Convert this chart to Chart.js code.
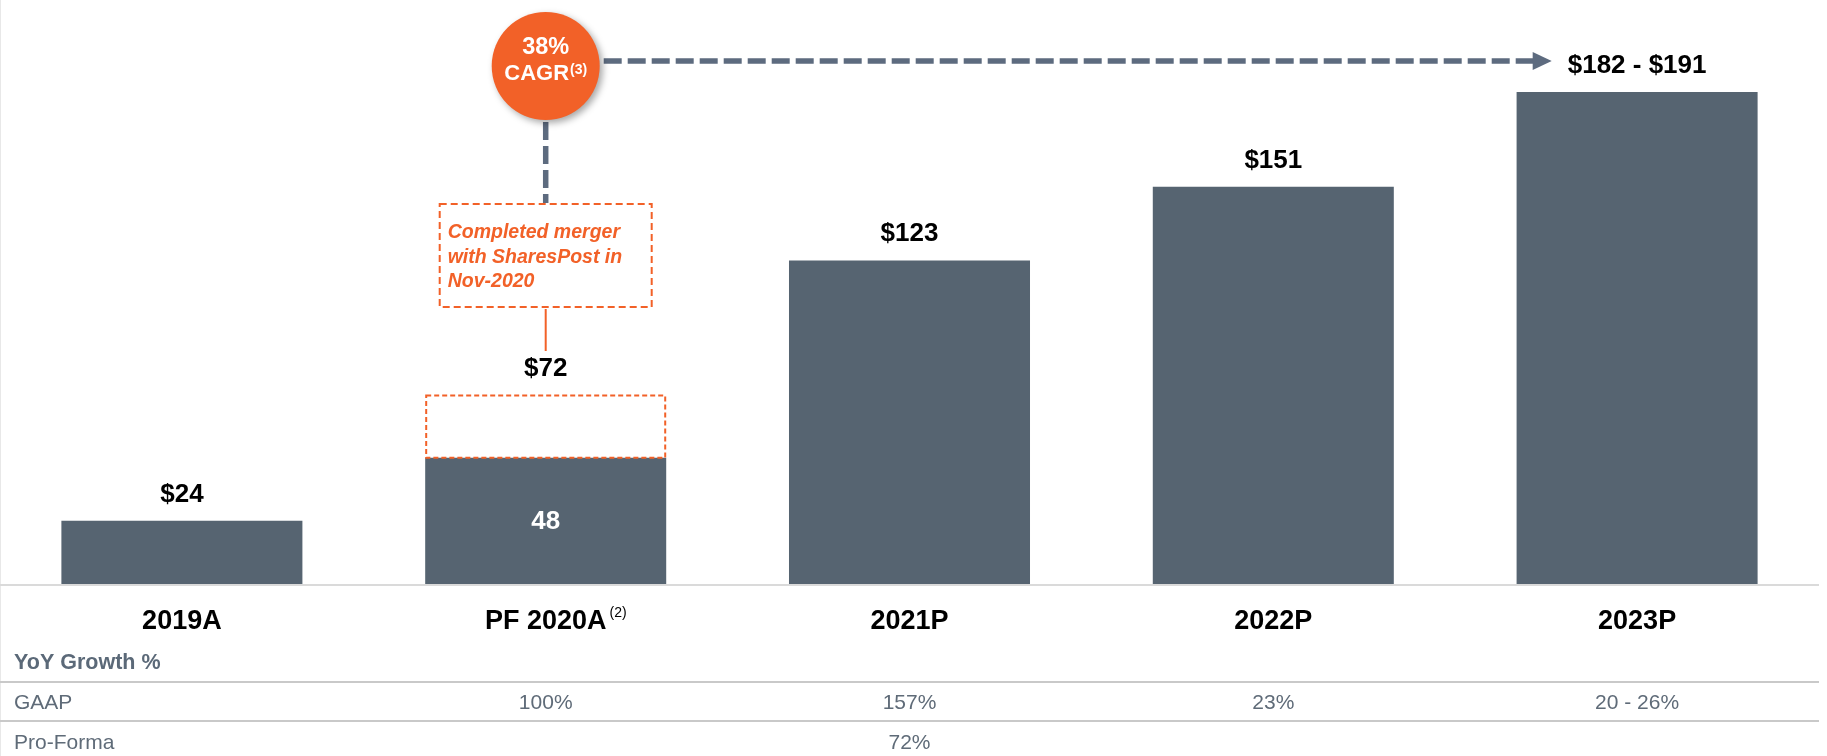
<!DOCTYPE html>
<html>
<head>
<meta charset="utf-8">
<script src="https://cdn.jsdelivr.net/npm/chart.js@4.4.1/dist/chart.umd.min.js"></script>
<style>
  html, body { margin: 0; padding: 0; background: #ffffff; }
  #wrap { width: 1827px; height: 756px; position: relative; }
  canvas { display: block; }
</style>
</head>
<body>
<div id="wrap"><canvas id="c" width="1827" height="756"></canvas></div>
<script>
// ---- data ----
const categories = ['2019A', 'PF 2020A', '2021P', '2022P', '2023P'];
const categoryNotes = ['', '(2)', '', '', ''];
const revenue = [24, 48, 123, 151, 187];
const proFormaAdd = [null, 24, null, null, null];
const valueLabels = ['$24', '$72', '$123', '$151', '$182 - $191'];
const innerLabels = ['', '48', '', '', ''];
const growthHeader = 'YoY Growth %';
const gaapGrowth = ['', '100%', '157%', '23%', '20 - 26%'];
const proFormaGrowth = ['', '', '72%', '', ''];
const rowLabels = ['GAAP', 'Pro-Forma'];
const cagrValue = '38%';
const cagrLabel = 'CAGR';
const cagrNote = '(3)';
const mergerNote = ['Completed merger', 'with SharesPost in', 'Nov-2020'];

// ---- styles ----
const FONT = '"Liberation Sans", Arial, Helvetica, sans-serif';
const BAR = '#566471';
const ORANGE = '#f26128';
const DASHGREY = '#5d6b7f';
const TABLETXT = '#5f6b78';
const RULE = '#c9c9c9';

const overlay = {
  id: 'overlay',
  afterDatasetsDraw(chart) {
    const ctx = chart.ctx;
    const xs = chart.scales.x;
    const ca = chart.chartArea;
    const m0 = chart.getDatasetMeta(0);
    const m1 = chart.getDatasetMeta(1);
    ctx.save();

    // thin left border
    ctx.fillStyle = '#e8e8e8';
    ctx.fillRect(0, 0, 1, chart.height);

    // baseline
    ctx.fillStyle = '#dadada';
    ctx.fillRect(ca.left, ca.bottom, ca.right - ca.left, 2);

    // dashed pro-forma extension
    m1.data.forEach((el, i) => {
      if (proFormaAdd[i] == null) return;
      const p = el.getProps(['x', 'y', 'base', 'width'], true);
      ctx.setLineDash([5, 3]);
      ctx.lineWidth = 2;
      ctx.strokeStyle = ORANGE;
      ctx.strokeRect(p.x - p.width / 2 + 1, p.y + 1, p.width - 2, p.base - p.y - 1);
    });
    ctx.setLineDash([]);

    // value labels above bars
    ctx.textAlign = 'center';
    ctx.textBaseline = 'alphabetic';
    ctx.font = 'bold 26px ' + FONT;
    ctx.fillStyle = '#000000';
    const labelW = [];
    m0.data.forEach((el, i) => {
      let top = el.y;
      if (proFormaAdd[i] != null) top = Math.min(top, m1.data[i].y);
      ctx.fillText(valueLabels[i], el.x, top - 19);
      labelW.push(ctx.measureText(valueLabels[i]).width);
    });

    // inner labels
    ctx.fillStyle = '#ffffff';
    ctx.textBaseline = 'middle';
    m0.data.forEach((el, i) => {
      if (!innerLabels[i]) return;
      ctx.fillText(innerLabels[i], el.x, (el.y + el.base) / 2 + 1);
    });

    // category labels
    ctx.textBaseline = 'alphabetic';
    ctx.fillStyle = '#000000';
    categories.forEach((c, i) => {
      const x = xs.getPixelForValue(i);
      ctx.font = 'bold 27px ' + FONT;
      ctx.textAlign = 'center';
      ctx.fillText(c, x, 629);
      if (categoryNotes[i]) {
        const w = ctx.measureText(c).width;
        ctx.font = '14px ' + FONT;
        ctx.textAlign = 'left';
        ctx.fillText(categoryNotes[i], x + w / 2 + 3, 617);
      }
    });

    // growth table
    ctx.textAlign = 'left';
    ctx.font = 'bold 21.5px ' + FONT;
    ctx.fillStyle = '#5b6978';
    ctx.fillText(growthHeader, 14, 669);
    ctx.fillStyle = RULE;
    ctx.fillRect(ca.left, 681, ca.right - ca.left, 2);
    ctx.fillRect(ca.left, 720, ca.right - ca.left, 2);
    ctx.font = '21px ' + FONT;
    ctx.fillStyle = TABLETXT;
    ctx.fillText(rowLabels[0], 14, 709);
    ctx.fillText(rowLabels[1], 14, 749);
    ctx.textAlign = 'center';
    categories.forEach((c, i) => {
      const x = xs.getPixelForValue(i);
      if (gaapGrowth[i]) ctx.fillText(gaapGrowth[i], x, 709);
      if (proFormaGrowth[i]) ctx.fillText(proFormaGrowth[i], x, 749);
    });

    // CAGR annotation
    const cx = xs.getPixelForValue(1);
    const cy = 66, r = 54;
    ctx.strokeStyle = DASHGREY;
    ctx.lineWidth = 5.5;
    ctx.setLineDash([18, 6]);
    ctx.beginPath();
    ctx.moveTo(cx, cy + r + 2);
    ctx.lineTo(cx, 203);
    ctx.stroke();
    const x4 = xs.getPixelForValue(4);
    const tip = x4 - labelW[4] / 2 - 16;
    ctx.beginPath();
    ctx.moveTo(cx + r + 4, 61);
    ctx.lineTo(tip - 17, 61);
    ctx.stroke();
    ctx.setLineDash([]);
    ctx.fillStyle = DASHGREY;
    ctx.beginPath();
    ctx.moveTo(tip - 19, 52);
    ctx.lineTo(tip, 61);
    ctx.lineTo(tip - 19, 70);
    ctx.closePath();
    ctx.fill();

    // circle
    ctx.save();
    ctx.shadowColor = 'rgba(0,0,0,0.35)';
    ctx.shadowBlur = 7;
    ctx.shadowOffsetX = 3;
    ctx.shadowOffsetY = 3;
    ctx.fillStyle = ORANGE;
    ctx.beginPath();
    ctx.arc(cx, cy, r, 0, Math.PI * 2);
    ctx.fill();
    ctx.restore();

    ctx.fillStyle = '#ffffff';
    ctx.textAlign = 'center';
    ctx.font = 'bold 23.5px ' + FONT;
    ctx.fillText(cagrValue, cx, 54);
    ctx.font = 'bold 22px ' + FONT;
    const wMain = ctx.measureText(cagrLabel).width;
    ctx.font = 'bold 14px ' + FONT;
    const wNote = ctx.measureText(cagrNote).width;
    const start = cx - (wMain + wNote + 1) / 2;
    ctx.textAlign = 'left';
    ctx.font = 'bold 22px ' + FONT;
    ctx.fillText(cagrLabel, start, 80);
    ctx.font = 'bold 14px ' + FONT;
    ctx.fillText(cagrNote, start + wMain + 1, 74);

    // merger note box
    const bx = cx - 106, by = 204, bw = 212, bh = 103;
    ctx.strokeStyle = ORANGE;
    ctx.lineWidth = 2;
    ctx.setLineDash([7, 4]);
    ctx.strokeRect(bx, by, bw, bh);
    ctx.setLineDash([]);
    ctx.font = 'italic bold 19.5px ' + FONT;
    ctx.fillStyle = ORANGE;
    ctx.textAlign = 'left';
    mergerNote.forEach((t, k) => ctx.fillText(t, bx + 8, 238 + k * 24.5));
    ctx.beginPath();
    ctx.moveTo(cx, by + bh + 2);
    ctx.lineTo(cx, 351);
    ctx.stroke();

    ctx.restore();
  }
};

new Chart(document.getElementById('c'), {
  type: 'bar',
  data: {
    labels: categories,
    datasets: [
      { data: revenue, backgroundColor: BAR, borderWidth: 0, barPercentage: 0.6625, categoryPercentage: 1 },
      { data: proFormaAdd, backgroundColor: 'rgba(255,255,255,0)', borderWidth: 0, barPercentage: 0.6625, categoryPercentage: 1 }
    ]
  },
  options: {
    responsive: false,
    devicePixelRatio: 1,
    animation: false,
    layout: { padding: { left: 0, right: 8, top: 0, bottom: 172 } },
    plugins: { legend: { display: false }, tooltip: { enabled: false } },
    scales: {
      x: { stacked: true, display: false },
      y: { stacked: true, display: false, min: 0, max: 222 }
    }
  },
  plugins: [overlay]
});
</script>
</body>
</html>
